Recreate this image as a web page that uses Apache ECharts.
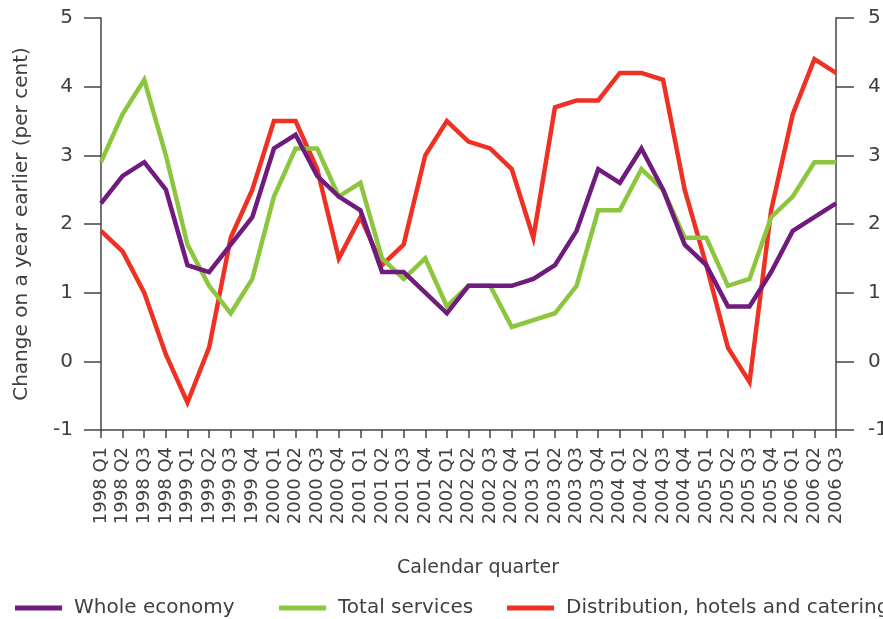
<!DOCTYPE html>
<html>
<head>
<meta charset="utf-8">
<script src="https://cdn.jsdelivr.net/npm/echarts@6/dist/echarts.min.js"></script>
<style>
  html, body { margin: 0; padding: 0; background: #fff; }
  #main { width: 883px; height: 619px; }
</style>
</head>
<body>
<div id="main"></div>
<script>
// quarters 1998 Q1 .. 2006 Q3
const quarters = [
  '1998 Q1', '1998 Q2', '1998 Q3', '1998 Q4',
  '1999 Q1', '1999 Q2', '1999 Q3', '1999 Q4',
  '2000 Q1', '2000 Q2', '2000 Q3', '2000 Q4',
  '2001 Q1', '2001 Q2', '2001 Q3', '2001 Q4',
  '2002 Q1', '2002 Q2', '2002 Q3', '2002 Q4',
  '2003 Q1', '2003 Q2', '2003 Q3', '2003 Q4',
  '2004 Q1', '2004 Q2', '2004 Q3', '2004 Q4',
  '2005 Q1', '2005 Q2', '2005 Q3', '2005 Q4',
  '2006 Q1', '2006 Q2', '2006 Q3'
];

const wholeEconomy = [
  2.3, 2.7, 2.9, 2.5, 1.4, 1.3, 1.7, 2.1, 3.1, 3.3, 2.7, 2.4,
  2.2, 1.3, 1.3, 1.0, 0.7, 1.1, 1.1, 1.1, 1.2, 1.4, 1.9, 2.8,
  2.6, 3.1, 2.5, 1.7, 1.4, 0.8, 0.8, 1.3, 1.9, 2.1, 2.3
];

const totalServices = [
  2.9, 3.6, 4.1, 3.0, 1.7, 1.1, 0.7, 1.2, 2.4, 3.1, 3.1, 2.4,
  2.6, 1.5, 1.2, 1.5, 0.8, 1.1, 1.1, 0.5, 0.6, 0.7, 1.1, 2.2,
  2.2, 2.8, 2.5, 1.8, 1.8, 1.1, 1.2, 2.1, 2.4, 2.9, 2.9
];

const distribution = [
  1.9, 1.6, 1.0, 0.1, -0.6, 0.2, 1.8, 2.5, 3.5, 3.5, 2.8, 1.5,
  2.1, 1.4, 1.7, 3.0, 3.5, 3.2, 3.1, 2.8, 1.8, 3.7, 3.8, 3.8,
  4.2, 4.2, 4.1, 2.5, 1.4, 0.2, -0.3, 2.2, 3.6, 4.4, 4.2
];

const FONT = 'DejaVu Sans';
const TEXT = '#404040';
const AXIS = '#444';
const COLORS = ['#6f1c7e', '#8cc63f', '#ef3124'];

function legendAt(name, left) {
  return {
    data: [name],
    left: left,
    top: 598,
    padding: 0,
    icon: 'rect',
    itemWidth: 47,
    itemHeight: 5,
    textStyle: { fontFamily: FONT, fontSize: 20, color: TEXT, padding: [0, 0, 0, 7] }
  };
}

const chart = echarts.init(document.getElementById('main'));
chart.setOption({
  animation: false,
  color: COLORS,
  textStyle: { fontFamily: FONT },
  grid: {
    left: 101, right: 47, top: 18, bottom: 189,
    containLabel: false,
    outerBoundsMode: 'none'
  },
  title: {
    text: 'Calendar quarter',
    left: 392,
    top: 554,
    textStyle: { fontFamily: FONT, fontSize: 19, fontWeight: 'normal', color: TEXT }
  },
  legend: [
    legendAt('Whole economy', 15),
    legendAt('Total services', 279),
    legendAt('Distribution, hotels and catering', 507)
  ],
  xAxis: {
    type: 'category',
    data: quarters,
    boundaryGap: false,
    axisLine: { onZero: false, lineStyle: { color: AXIS, width: 1.5 } },
    axisTick: { interval: 0, length: 8, lineStyle: { color: AXIS, width: 1.5 } },
    axisLabel: {
      interval: 0,
      rotate: 90,
      margin: 17,
      fontFamily: FONT,
      fontSize: 18,
      color: TEXT
    }
  },
  yAxis: [
    {
      type: 'value',
      min: -1,
      max: 5,
      interval: 1,
      name: 'Change on a year earlier (per cent)',
      nameLocation: 'middle',
      nameGap: 69,
      nameTextStyle: { fontFamily: FONT, fontSize: 20, color: TEXT },
      splitLine: { show: false },
      axisLine: { show: true, lineStyle: { color: AXIS, width: 1.5 } },
      axisTick: { show: true, length: 17, lineStyle: { color: AXIS, width: 1.5 } },
      axisLabel: { margin: 28, fontFamily: FONT, fontSize: 20, color: TEXT }
    },
    {
      type: 'value',
      position: 'right',
      min: -1,
      max: 5,
      interval: 1,
      splitLine: { show: false },
      axisLine: { show: true, lineStyle: { color: AXIS, width: 1.5 } },
      axisTick: { show: true, length: 18, lineStyle: { color: AXIS, width: 1.5 } },
      axisLabel: { margin: 32, fontFamily: FONT, fontSize: 20, color: TEXT }
    }
  ],
  series: [
    {
      name: 'Whole economy',
      type: 'line',
      data: wholeEconomy,
      symbol: 'none',
      z: 4,
      lineStyle: { width: 4.5, join: 'miter' }
    },
    {
      name: 'Total services',
      type: 'line',
      data: totalServices,
      symbol: 'none',
      z: 3,
      lineStyle: { width: 4.5, join: 'miter' }
    },
    {
      name: 'Distribution, hotels and catering',
      type: 'line',
      data: distribution,
      symbol: 'none',
      z: 2,
      lineStyle: { width: 4.5, join: 'miter' }
    }
  ]
});
</script>
</body>
</html>
